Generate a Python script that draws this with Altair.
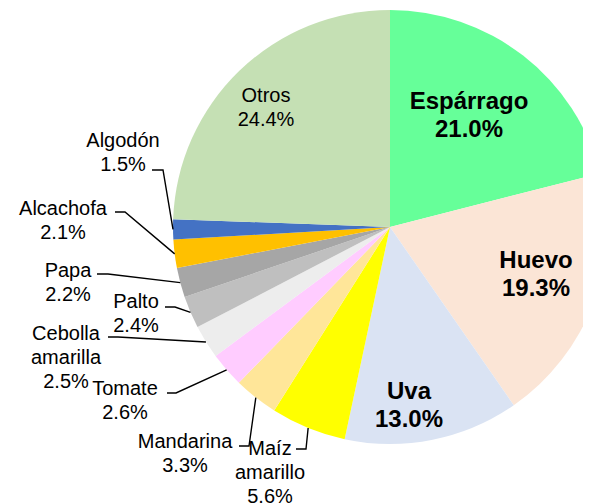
import math
import altair as alt
import pandas as pd

# ---- data ----
categories = ["Espárrago", "Huevo", "Uva", "Maíz amarillo", "Mandarina", "Tomate",
              "Cebolla amarilla", "Palto", "Papa", "Alcachofa", "Algodón", "Otros"]
values = [21.0, 19.3, 13.0, 5.6, 3.3, 2.6, 2.5, 2.4, 2.2, 2.1, 1.5, 24.4]

# ---- styles / layout ----
colors = ["#66FF99", "#FBE5D6", "#DAE3F3", "#FFFF00", "#FFE699", "#FFCCFF",
          "#EDEDED", "#BFBFBF", "#A6A6A6", "#FFC000", "#4472C4", "#C5E0B4"]
bold_labels = ["Espárrago", "Huevo", "Uva"]
CX, CY, R = 382, 219, 217
W, H = 575, 495
FONT = "Liberation Sans"

# label anchor (center x, first-line baseline y) in chart pixels
label_pos = {
    "Espárrago": (461, 101), "Huevo": (528, 260), "Uva": (401, 391),
    "Otros": (258, 94), "Algodón": (115, 139), "Alcachofa": (55, 207),
    "Papa": (60, 269), "Palto": (128, 300), "Cebolla amarilla": (58, 332),
    "Tomate": (117, 387), "Mandarina": (177, 440), "Maíz amarillo": (262, 447),
}
# leader line: label end point, elbow point (chart pixels)
leader_pts = {
    "Algodón": [(144, 162), (155, 162)],
    "Alcachofa": [(107, 204), (117, 204)],
    "Papa": [(89, 266), (100, 266)],
    "Palto": [(157, 299), (167, 299)],
    "Cebolla amarilla": [(100, 329), (110, 329)],
    "Tomate": [(159, 385), (168, 385)],
    "Mandarina": [(231, 438), (241, 438)],
    "Maíz amarillo": [(288, 441), (298, 441)],
}

total = sum(values)
df = pd.DataFrame({"cat": categories, "val": values, "idx": range(len(categories))})

arcs = alt.Chart(df).mark_arc(radius=R, clip=True).encode(
    theta=alt.Theta("val:Q", stack=True),
    color=alt.Color("cat:N", scale=alt.Scale(domain=categories, range=colors), legend=None),
    order=alt.Order("idx:Q"),
    x=alt.value(CX), y=alt.value(CY),
)

# labels
rows = []
for c, v in zip(categories, values):
    lx, ly = label_pos[c]
    rows.append({"text": c.replace(" ", "\n") + f"\n{v:.1f}%", "x": lx, "y": ly,
                 "bold": c in bold_labels})
lab = pd.DataFrame(rows)

bold_text = alt.Chart(lab).transform_filter("datum.bold").mark_text(
    font=FONT, fontSize=24, fontWeight="bold", lineHeight=28, align="center",
    baseline="alphabetic", lineBreak="\n", color="black").encode(
    x=alt.X("x:Q", scale=None), y=alt.Y("y:Q", scale=None), text="text:N")

reg_text = alt.Chart(lab).transform_filter("!datum.bold").mark_text(
    font=FONT, fontSize=20, lineHeight=24, align="center",
    baseline="alphabetic", lineBreak="\n", color="black").encode(
    x=alt.X("x:Q", scale=None), y=alt.Y("y:Q", scale=None), text="text:N")

# leader lines: from label to slice edge at mid angle
lrows = []
cum = 0.0
for c, v in zip(categories, values):
    mid = (cum + v / 2) / total * 2 * math.pi
    cum += v
    if c in leader_pts:
        pts = leader_pts[c] + [(CX + R * math.sin(mid), CY - R * math.cos(mid))]
        for k, (px, py) in enumerate(pts):
            lrows.append({"cat": c, "k": k, "x": px, "y": py})
ldf = pd.DataFrame(lrows)

leaders = alt.Chart(ldf).mark_line(color="black", strokeWidth=1.4).encode(
    x=alt.X("x:Q", scale=None), y=alt.Y("y:Q", scale=None),
    detail="cat:N", order="k:Q")

chart = alt.layer(arcs, leaders, bold_text, reg_text).properties(
    width=W, height=H,
    autosize=alt.AutoSizeParams(type="none"),
    padding={"left": 0, "top": 0, "right": 0, "bottom": 0},
).configure_view(stroke=None)

chart.save("out.html", embed_options={"renderer": "svg", "actions": False})
